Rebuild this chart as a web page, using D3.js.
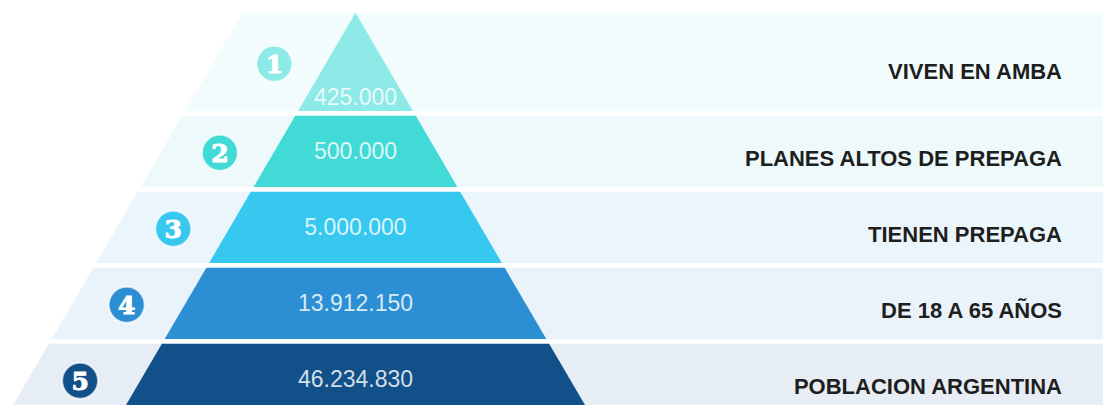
<!DOCTYPE html>
<html>
<head>
<meta charset="utf-8">
<script src="https://cdn.jsdelivr.net/npm/d3@7"></script>
<style>
  body { margin: 0; background: #fff; }
  svg { display: block; }
</style>
</head>
<body>
<svg id="chart" width="1103" height="405"></svg>
<script>
// chart data, top of the pyramid first
const levels = ["1", "2", "3", "4", "5"];
const values = ["425.000", "500.000", "5.000.000", "13.912.150", "46.234.830"];
const labels = [
  "VIVEN EN AMBA",
  "PLANES ALTOS DE PREPAGA",
  "TIENEN PREPAGA",
  "DE 18 A 65 AÑOS",
  "POBLACION ARGENTINA"
];
const fillColors = ["#8eeae7", "#41dad7", "#36c8ef", "#2c8fd3", "#115089"];
const bgColors = ["#f2fcfd", "#edf9fa", "#ebf6fc", "#ebf3fa", "#e7edf4"];

const width = 1103;
const svg = d3.select("#chart");

// vertical layout: first band is taller (it holds the tip of the triangle)
const bandUnits = [1.355, 1, 1, 1, 1];
const gap = 4.8;
const cum = d3.cumsum([0].concat(bandUnits));
const y = d3.scaleLinear().domain([0, 1]).range([12.7, 88.7]);

const bands = levels.map((d, i) => ({
  level: d,
  value: values[i],
  label: labels[i],
  top: y(cum[i]),
  bottom: y(cum[i + 1]) - gap,
  color: fillColors[i],
  bg: bgColors[i]
}));

// half width of the pyramid as a function of y
const apexX = 355.5;
const half = d3.scaleLinear().domain([12.7, 405]).range([0, 229.5]);
const bgShift = 113;

// background parallelograms, run out to the right edge
svg.append("g")
  .selectAll("path")
  .data(bands)
  .join("path")
  .attr("d", d => {
    const l1 = apexX - half(d.top) - bgShift;
    const l2 = apexX - half(d.bottom) - bgShift;
    return `M${l1},${d.top}L${width},${d.top}L${width},${d.bottom}L${l2},${d.bottom}Z`;
  })
  .attr("fill", d => d.bg);

// pyramid slices
svg.append("g")
  .selectAll("path")
  .data(bands)
  .join("path")
  .attr("d", d => {
    const ht = half(d.top), hb = half(d.bottom);
    return `M${apexX - ht},${d.top}L${apexX + ht},${d.top}L${apexX + hb},${d.bottom}L${apexX - hb},${d.bottom}Z`;
  })
  .attr("fill", d => d.color);

// values inside the slices
svg.append("g")
  .selectAll("text")
  .data(bands)
  .join("text")
  .attr("x", apexX)
  .attr("y", (d, i) => d.top + (d.bottom - d.top) * (i === 0 ? 0.86 : 0.5))
  .attr("text-anchor", "middle")
  .attr("dominant-baseline", "central")
  .attr("font-family", "'Liberation Sans', Arial, sans-serif")
  .attr("font-size", 23)
  .attr("fill", "#ffffff")
  .attr("fill-opacity", 0.82)
  .text(d => d.value);

// numbered circles
const circleY = d => d.top + (d.bottom - d.top) * 0.52;
const circleX = cy => 273 - 0.613 * (cy - 66);

const badges = svg.append("g")
  .selectAll("g")
  .data(bands)
  .join("g")
  .attr("transform", d => `translate(${circleX(circleY(d))},${circleY(d)})`);

badges.append("circle")
  .attr("r", 18)
  .attr("fill", d => d.color)
  .attr("stroke", "#ffffff")
  .attr("stroke-opacity", 0.7)
  .attr("stroke-width", 2);

badges.append("text")
  .attr("text-anchor", "middle")
  .attr("dominant-baseline", "central")
  .attr("y", 1)
  .attr("font-family", "'DejaVu Serif', serif")
  .attr("font-weight", "bold")
  .attr("font-size", 25)
  .attr("fill", "#ffffff")
  .attr("stroke", "#ffffff")
  .attr("stroke-width", 1)
  .text(d => d.level);

// labels on the right
svg.append("g")
  .selectAll("text")
  .data(bands)
  .join("text")
  .attr("x", 1062)
  .attr("y", d => d.top + (d.bottom - d.top) * 0.6)
  .attr("text-anchor", "end")
  .attr("dominant-baseline", "central")
  .attr("font-family", "'Liberation Sans', Arial, sans-serif")
  .attr("font-weight", "bold")
  .attr("font-size", 22)
  .attr("fill", "#1e1e1e")
  .text(d => d.label);
</script>
</body>
</html>
